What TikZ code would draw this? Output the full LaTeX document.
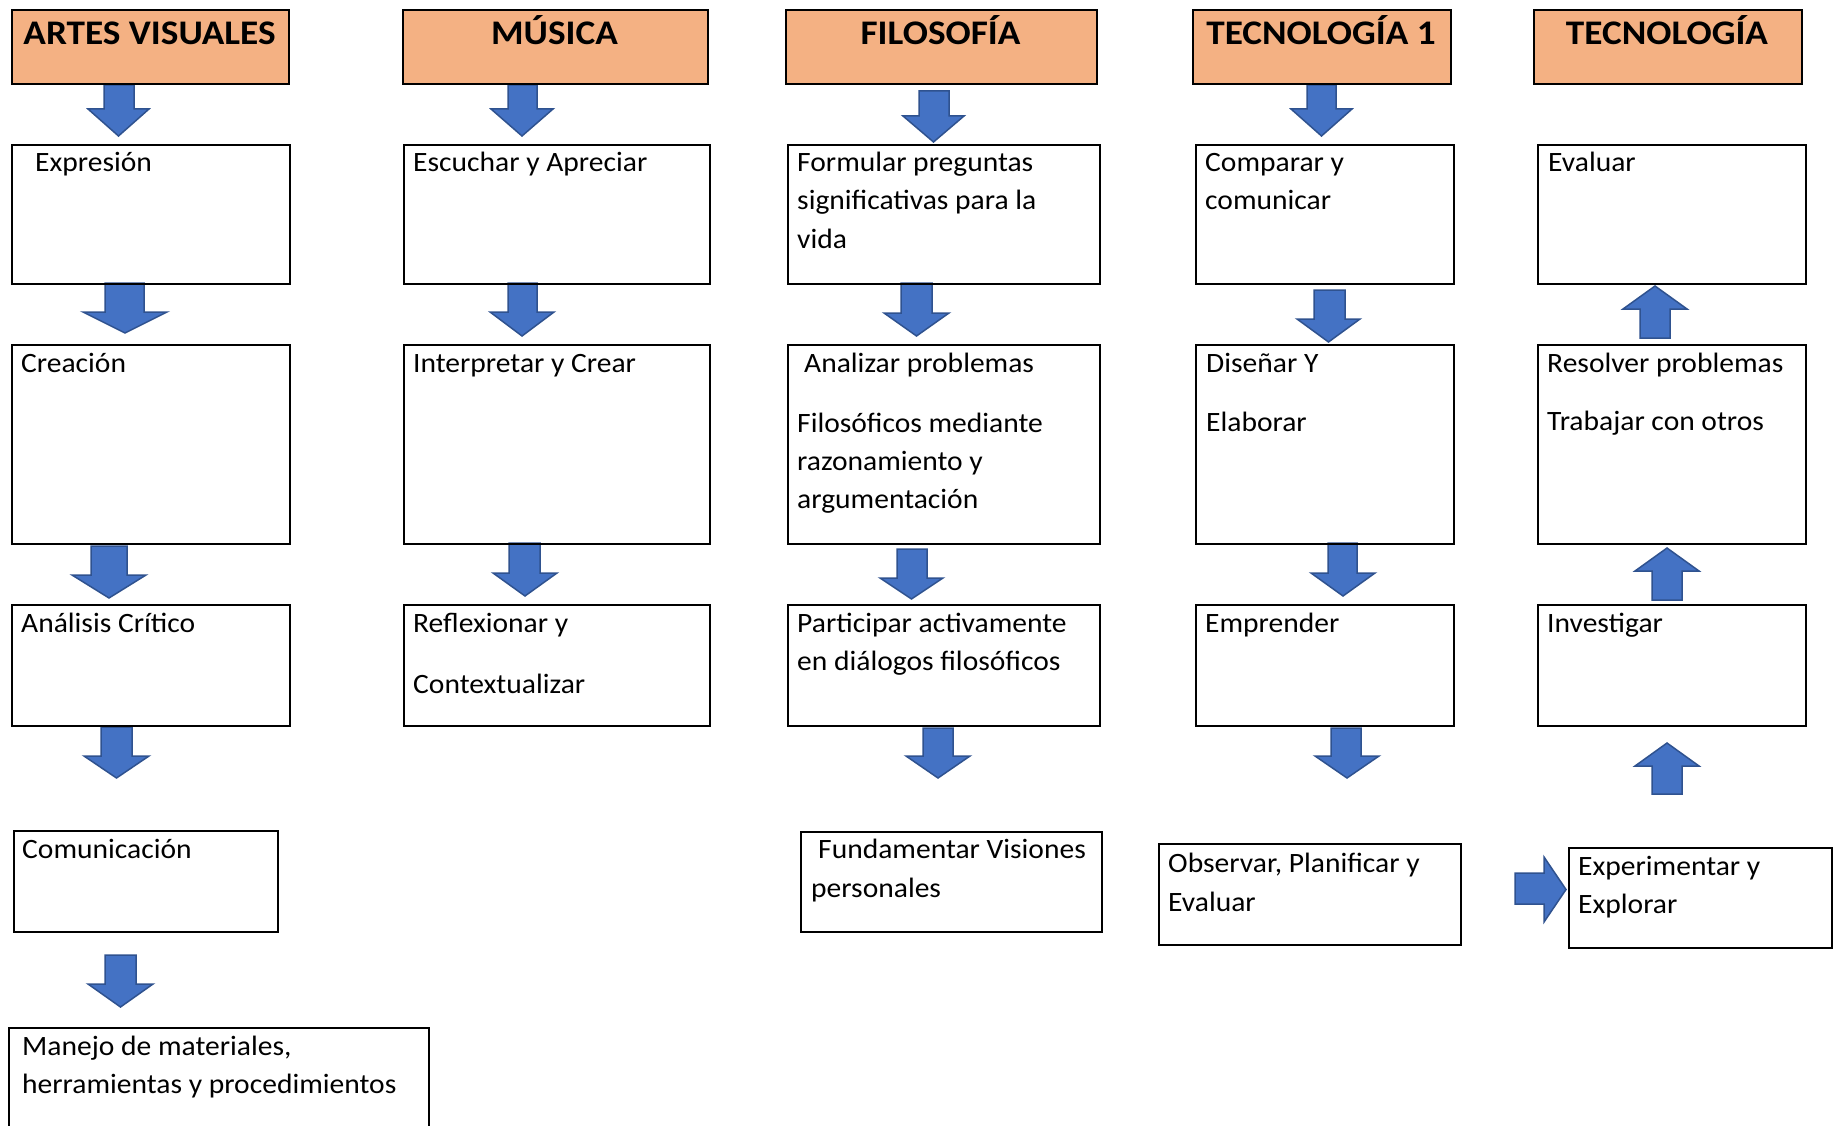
\documentclass[tikz,border=0pt]{standalone}
\usepackage{fontspec}
\setmainfont[FakeStretch=1.055]{Carlito}
\newfontfamily\hdrfont[FakeStretch=1.08]{Carlito}
\definecolor{hdrfill}{HTML}{F4B183}
\definecolor{arrfill}{HTML}{4472C4}
\definecolor{arrline}{HTML}{2F528F}
\tikzset{
  boxstyle/.style={draw=black, line width=2pt, rectangle, inner sep=0pt, anchor=north west},
  hdrstyle/.style={boxstyle, fill=hdrfill},
  txt/.style={inner sep=0pt, anchor=base west, font=\fontsize{28}{33}\selectfont},
  hdrtxt/.style={inner sep=0pt, anchor=base, font=\hdrfont\fontsize{34.5}{40}\selectfont\bfseries},
  blockarrow/.style={fill=arrfill, draw=arrline, line width=1.5pt, line join=miter}
}
% box: [style]{name}{x1}{y1}{x2}{y2}
\newcommand\mkbox[6][boxstyle]{\node[#1, minimum width={#5-#3}, minimum height={#6-#4}] (#2) at (#3,#4) {};}
% vertical block arrow: shaftL shaftR shaftEnd headL headR headBase tip
\newcommand\vblockarr[7]{\draw[blockarrow] (#1,#3) -- (#2,#3) -- (#2,#6) -- (#5,#6) -- ({(#4+#5)/2},#7) -- (#4,#6) -- (#1,#6) -- cycle;}
% horizontal block arrow: shaftTop shaftBot tail headTop headBot headBase tip
\newcommand\hblockarr[7]{\draw[blockarrow] (#3,#1) -- (#6,#1) -- (#6,#4) -- (#7,{(#4+#5)/2}) -- (#6,#5) -- (#6,#2) -- (#3,#2) -- cycle;}
\begin{document}
\begin{tikzpicture}[x=1pt,y=-1pt]
\useasboundingbox (0,0) rectangle (1838,1126);
\clip (0,0) rectangle (1838,1126);

% ---------- block arrows ----------
\vblockarr{104}{134}{85}{88}{149}{109}{136}
\vblockarr{105}{144}{283}{83}{167}{312}{333}
\vblockarr{91}{127}{546}{72}{146}{575}{598}
\vblockarr{101}{132}{727}{84}{149}{756}{778}
\vblockarr{105}{136}{955}{88}{153}{984}{1007}

\vblockarr{508}{537}{85}{491}{553}{109}{136}
\vblockarr{508}{537}{283}{490}{554}{312}{336}
\vblockarr{509}{540}{543}{493}{557}{573}{596}

\vblockarr{919}{949}{91}{903}{964}{116}{142}
\vblockarr{901}{932}{283}{884}{949}{313}{336}
\vblockarr{897}{927}{549}{880}{943}{578}{599}
\vblockarr{923}{953}{728}{906}{970}{756}{778}

\vblockarr{1307}{1336}{85}{1291}{1352}{109}{136}
\vblockarr{1314}{1345}{290}{1297}{1360}{319}{342}
\vblockarr{1328}{1357}{543}{1311}{1375}{573}{596}
\vblockarr{1331}{1361}{728}{1315}{1379}{756}{778}

\vblockarr{1640}{1670}{338}{1623}{1687}{309}{286}
\vblockarr{1652}{1682}{600}{1635}{1699}{571}{548}
\vblockarr{1652}{1682}{794}{1635}{1699}{766}{743}
\hblockarr{873}{904}{1515}{857}{922}{1544}{1566}

% ---------- headers ----------
\mkbox[hdrstyle]{hAV}{11}{9}{288}{83}
\mkbox[hdrstyle]{hMU}{402}{9}{707}{83}
\mkbox[hdrstyle]{hFI}{785}{9}{1096}{83}
\mkbox[hdrstyle]{hTA}{1192}{9}{1450}{83}
\mkbox[hdrstyle]{hTB}{1533}{9}{1801}{83}
\node[hdrtxt] (thAV) at (149.5,45) {ARTES VISUALES};
\node[hdrtxt] (thMU) at (554.5,45) {MÚSICA};
\node[hdrtxt] (thFI) at (940.5,45) {FILOSOFÍA};
\node[hdrtxt] (thTA) at (1321,45) {TECNOLOGÍA 1};
\node[hdrtxt] (thTB) at (1667,45) {TECNOLOGÍA};

% ---------- column 1 ----------
\mkbox{bExp}{11}{144}{289}{283}
\mkbox{bCre}{11}{344}{289}{543}
\mkbox{bAna}{11}{604}{289}{725}
\mkbox{bCom}{13}{830}{277}{931}
\mkbox{bMan}{8}{1027}{428}{1140}
\node[txt] (tExp) at (35,172) {Expresión};
\node[txt] (tCre) at (21,372) {Creación};
\node[txt] (tAna) at (21,632) {Análisis Crítico};
\node[txt] (tCom) at (22,858) {Comunicación};
\node[txt] (tMan1) at (22,1055) {Manejo de materiales,};
\node[txt] (tMan2) at (22,1093) {herramientas y procedimientos};

% ---------- column 2 ----------
\mkbox{bEsc}{403}{144}{709}{283}
\mkbox{bInt}{403}{344}{709}{543}
\mkbox{bRef}{403}{604}{709}{725}
\node[txt] (tEsc) at (413,172) {Escuchar y Apreciar};
\node[txt] (tInt) at (413,372) {Interpretar y Crear};
\node[txt] (tRef1) at (413,632) {Reflexionar y};
\node[txt] (tRef2) at (413,693) {Contextualizar};

% ---------- column 3 ----------
\mkbox{bFor}{787}{144}{1099}{283}
\mkbox{bAnz}{787}{344}{1099}{543}
\mkbox{bPar}{787}{604}{1099}{725}
\mkbox{bFun}{800}{831}{1101}{931}
\node[txt] (tFor1) at (797,172) {Formular preguntas};
\node[txt] (tFor2) at (797,210) {significativas para la};
\node[txt] (tFor3) at (797,248) {vida};
\node[txt] (tAnz1) at (804,372) {Analizar problemas};
\node[txt] (tAnz2) at (797,432) {Filosóficos mediante};
\node[txt] (tAnz3) at (797,470) {razonamiento y};
\node[txt] (tAnz4) at (797,508) {argumentación};
\node[txt] (tPar1) at (797,632) {Participar activamente};
\node[txt] (tPar2) at (797,670) {en diálogos filosóficos};
\node[txt] (tFun1) at (818,858) {Fundamentar Visiones};
\node[txt] (tFun2) at (811,897) {personales};

% ---------- column 4 ----------
\mkbox{bCmp}{1195}{144}{1453}{283}
\mkbox{bDis}{1195}{344}{1453}{543}
\mkbox{bEmp}{1195}{604}{1453}{725}
\mkbox{bObs}{1158}{843}{1460}{944}
\node[txt] (tCmp1) at (1205,172) {Comparar y};
\node[txt] (tCmp2) at (1205,210) {comunicar};
\node[txt] (tDis1) at (1206,372) {Diseñar Y};
\node[txt] (tDis2) at (1206,431) {Elaborar};
\node[txt] (tEmp) at (1205,632) {Emprender};
\node[txt] (tObs1) at (1168,872) {Observar, Planificar y};
\node[txt] (tObs2) at (1168,911) {Evaluar};

% ---------- column 5 ----------
\mkbox{bEva}{1537}{144}{1805}{283}
\mkbox{bRes}{1537}{344}{1805}{543}
\mkbox{bInv}{1537}{604}{1805}{725}
\mkbox{bExpl}{1568}{847}{1831}{947}
\node[txt] (tEva) at (1548,172) {Evaluar};
\node[txt] (tRes1) at (1547,372) {Resolver problemas};
\node[txt] (tRes2) at (1547,430) {Trabajar con otros};
\node[txt] (tInv) at (1547,632) {Investigar};
\node[txt] (tExpl1) at (1578,875) {Experimentar y};
\node[txt] (tExpl2) at (1578,913) {Explorar};
\end{tikzpicture}
\end{document}
